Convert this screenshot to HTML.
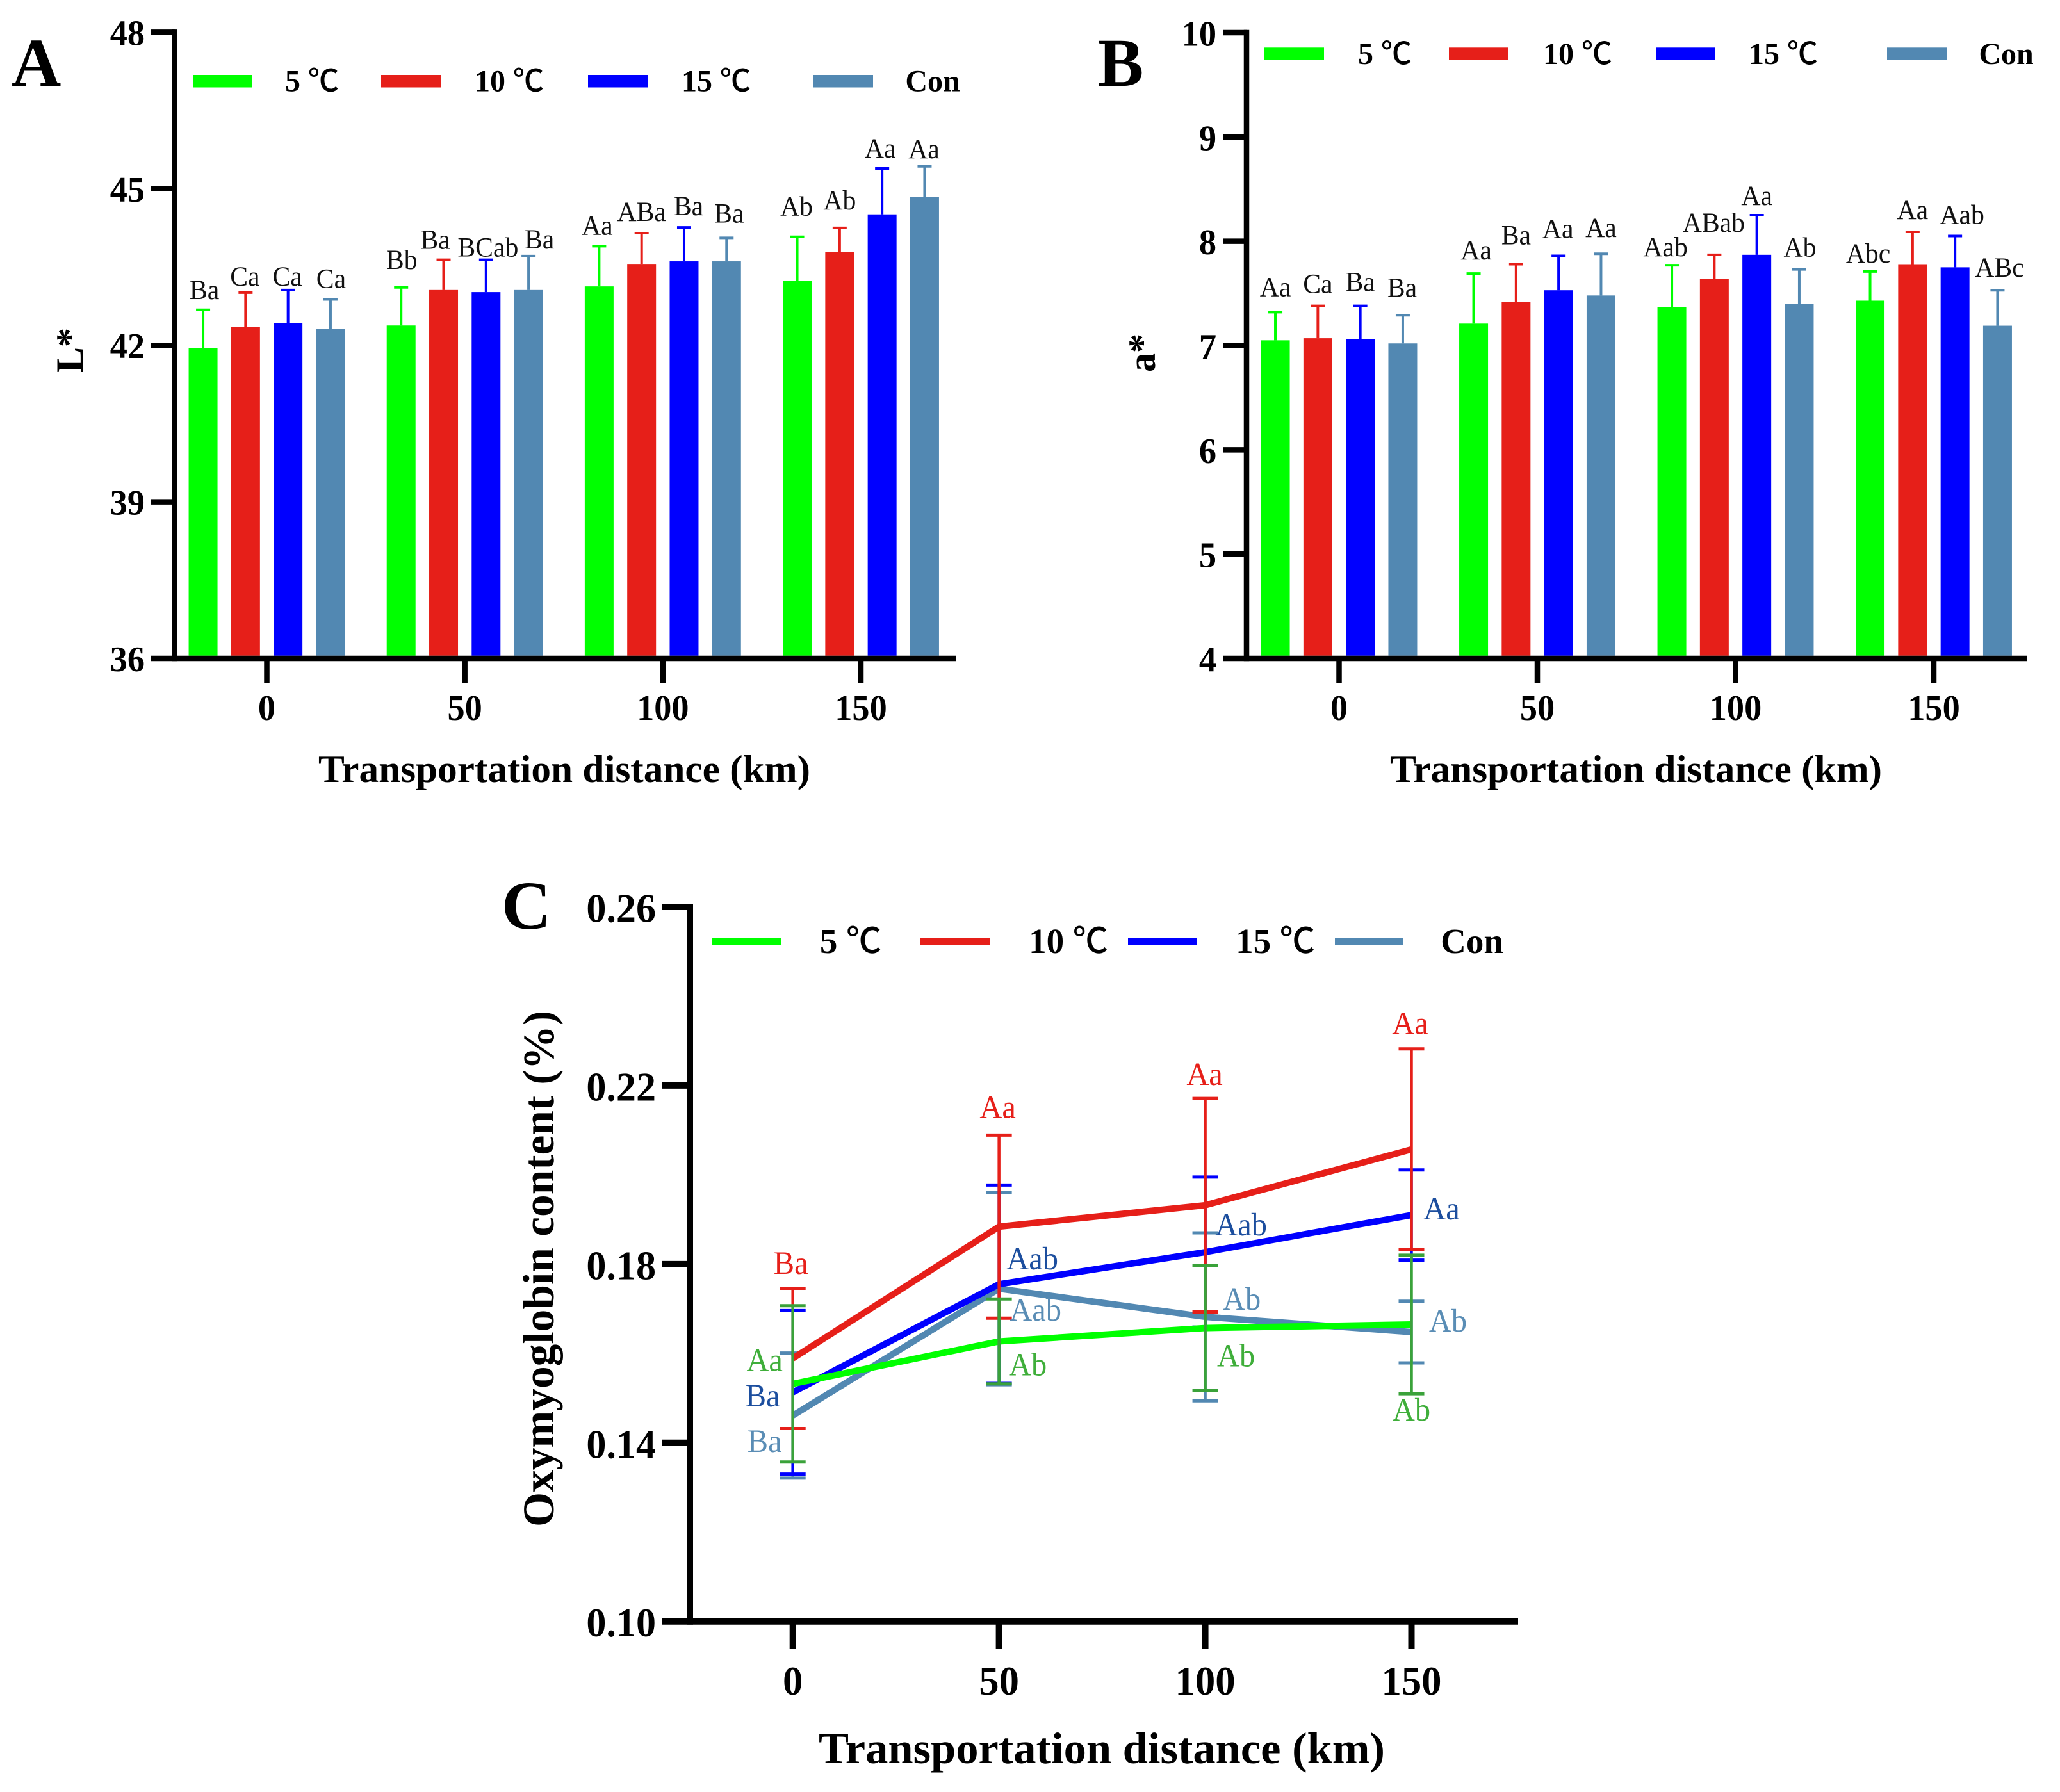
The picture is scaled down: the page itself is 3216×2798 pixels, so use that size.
<!DOCTYPE html>
<html lang="en">
<head>
<meta charset="utf-8">
<title>Effect of transportation distance on L*, a* and oxymyoglobin content</title>
<style>
html,body{margin:0;padding:0;background:#fff;width:3216px;height:2798px;overflow:hidden}
svg{display:block}
text{font-family:"Liberation Serif","Noto Serif CJK SC",serif;fill:#000}
.b{font-weight:bold}
.leg{font-weight:bold;font-size:48px;text-anchor:middle}
.legc{font-weight:bold;font-size:55px;text-anchor:middle}
.ttl{font-weight:bold;font-size:60px;text-anchor:middle}
.ltr{font-weight:bold;font-size:107px}
.deg{font-family:"Noto Sans CJK SC","Liberation Sans",sans-serif;font-weight:500}
</style>
</head>
<body>
<svg id="figure" xmlns="http://www.w3.org/2000/svg" width="3216" height="2798" viewBox="0 0 3216 2798">
<rect x="0" y="0" width="3216" height="2798" fill="#ffffff"/>

<g id="panel-a">
  <text class="ltr" x="18" y="134">A</text>
  <text class="ttl" transform="translate(129,547) rotate(-90)">L*</text>
  <text class="ttl" x="881" y="1221" textLength="768" lengthAdjust="spacingAndGlyphs">Transportation distance (km)</text>
</g>
<g id="legend-a">
  <rect x="301" y="117" width="93" height="19.5" fill="#00ff00"/>
  <text class="leg" x="487" y="142.7">5 <tspan class="deg">℃</tspan></text>
  <rect x="595" y="117" width="93" height="19.5" fill="#e61f19"/>
  <text class="leg" x="795" y="142.7">10 <tspan class="deg">℃</tspan></text>
  <rect x="918" y="117" width="93" height="19.5" fill="#0000ff"/>
  <text class="leg" x="1118" y="142.7">15 <tspan class="deg">℃</tspan></text>
  <rect x="1270" y="117" width="93" height="19.5" fill="#5288b2"/>
  <text class="leg" x="1456" y="142.7">Con</text>
</g>

<g id="panel-b">
  <text class="ltr" x="1714" y="134">B</text>
  <text class="ttl" transform="translate(1803,551) rotate(-90)">a*</text>
  <text class="ttl" x="2554" y="1221" textLength="768" lengthAdjust="spacingAndGlyphs">Transportation distance (km)</text>
</g>
<g id="legend-b">
  <rect x="1974" y="74.3" width="93" height="19.7" fill="#00ff00"/>
  <text class="leg" x="2162" y="100">5 <tspan class="deg">℃</tspan></text>
  <rect x="2262" y="74.3" width="93" height="19.7" fill="#e61f19"/>
  <text class="leg" x="2463" y="100">10 <tspan class="deg">℃</tspan></text>
  <rect x="2585" y="74.3" width="93" height="19.7" fill="#0000ff"/>
  <text class="leg" x="2784" y="100">15 <tspan class="deg">℃</tspan></text>
  <rect x="2946" y="74.3" width="93" height="19.7" fill="#5288b2"/>
  <text class="leg" x="3132" y="100">Con</text>
</g>

<g id="panel-c">
  <text class="ltr" x="783" y="1450">C</text>
  <text class="ttl" style="font-size:69px" transform="translate(864,1981) rotate(-90)" textLength="806" lengthAdjust="spacingAndGlyphs">Oxymyoglobin content (%)</text>
  <text class="ttl" style="font-size:69px" x="1720" y="2753" textLength="884" lengthAdjust="spacingAndGlyphs">Transportation distance (km)</text>
</g>
<g id="legend-c">
  <rect x="1112" y="1465" width="108" height="10" fill="#00ff00"/>
  <text class="legc" x="1328" y="1488">5 <tspan class="deg">℃</tspan></text>
  <rect x="1437" y="1465" width="108" height="10" fill="#e61f19"/>
  <text class="legc" x="1668" y="1488">10 <tspan class="deg">℃</tspan></text>
  <rect x="1761" y="1465" width="107" height="10" fill="#0000ff"/>
  <text class="legc" x="1991" y="1488">15 <tspan class="deg">℃</tspan></text>
  <rect x="2084" y="1465" width="107" height="10" fill="#5288b2"/>
  <text class="legc" x="2298" y="1488">Con</text>
</g>
</svg>

<script>
// ---- shared categories ----
const distances = [0, 50, 100, 150];
const seriesNames = ['5c', '10c', '15c', 'con'];

// ---- panel A: L* ----
const lTicks = [36, 39, 42, 45, 48];
const lMean5 = [41.95, 42.38, 43.13, 43.24];
const lMean10 = [42.35, 43.06, 43.56, 43.79];
const lMean15 = [42.43, 43.02, 43.61, 44.51];
const lMeanCon = [42.32, 43.06, 43.61, 44.85];
const lSd5 = [0.73, 0.73, 0.77, 0.84];
const lSd10 = [0.66, 0.58, 0.59, 0.46];
const lSd15 = [0.63, 0.62, 0.65, 0.88];
const lSdCon = [0.56, 0.65, 0.45, 0.58];
const lSig5 = ['Ba', 'Bb', 'Aa', 'Ab'];
const lSig10 = ['Ca', 'Ba', 'ABa', 'Ab'];
const lSig15 = ['Ca', 'BCab', 'Ba', 'Aa'];
const lSigCon = ['Ca', 'Ba', 'Ba', 'Aa'];

// ---- panel B: a* ----
const aTicks = [4, 5, 6, 7, 8, 9, 10];
const aMean5 = [7.05, 7.21, 7.37, 7.43];
const aMean10 = [7.07, 7.42, 7.64, 7.78];
const aMean15 = [7.06, 7.53, 7.87, 7.75];
const aMeanCon = [7.02, 7.48, 7.40, 7.19];
const aSd5 = [0.27, 0.48, 0.40, 0.28];
const aSd10 = [0.31, 0.36, 0.23, 0.31];
const aSd15 = [0.32, 0.33, 0.38, 0.30];
const aSdCon = [0.27, 0.40, 0.33, 0.34];
const aSig5 = ['Aa', 'Aa', 'Aab', 'Abc'];
const aSig10 = ['Ca', 'Ba', 'ABab', 'Aa'];
const aSig15 = ['Ba', 'Aa', 'Aa', 'Aab'];
const aSigCon = ['Ba', 'Aa', 'Ab', 'ABc'];

// ---- panel C: oxymyoglobin ----
const oxyTicks = ['0.10', '0.14', '0.18', '0.22', '0.26'];
const oxyMean5 = [0.1532, 0.1627, 0.1657, 0.1665];
const oxyMean10 = [0.1589, 0.1884, 0.1932, 0.2057];
const oxyMean15 = [0.1513, 0.1755, 0.1827, 0.1910];
const oxyMeanCon = [0.1461, 0.1745, 0.1682, 0.1648];
const oxySd5 = [0.0175, 0.0095, 0.0140, 0.0155];
const oxySd10 = [0.0157, 0.0205, 0.0239, 0.0225];
const oxySd15 = [0.0183, 0.0222, 0.0168, 0.0101];
const oxySdCon = [0.0140, 0.0215, 0.0188, 0.0069];
const oxySig5 = ['Aa', 'Ab', 'Ab', 'Ab'];
const oxySig10 = ['Ba', 'Aa', 'Aa', 'Aa'];
const oxySig15 = ['Ba', 'Aab', 'Aab', 'Aa'];
const oxySigCon = ['Ba', 'Aab', 'Ab', 'Ab'];

// ---- hand layout nudges for the significance letters (not data) ----
const nudgeA = {
  lift: [[17, 29, 18, 33], [11, 17, 19, 29], [7, 5, 19, 17], [18, 12, 24, 13]],
  shift: [[2, 1, -3, -1], [-1, -13, 0, 0], [-1, 3, 7, -3], [1, 17, 4, -1]]
};
const nudgeB = {
  lift: [[25, 22, 14, 14], [20, 31, 36, 20], [23, 28, 16, 19], [29, 26, 20, 21]],
  shift: [[0, 4, -10, -3], [0, 0, -1, 0], [0, -1, 0, 11], [-1, 0, 1, 3]]
};
const nudgeC = {
  dy: [[-20, 53, 60, 150], [-132, -170, -188, -180], [22, -23, -26, 7], [57, 50, -11, -1]],
  dx: [[-44, 45, 48, 0], [-3, -2, -1, -2], [-47, 52, 56, 47], [-44, 57, 57, 57]]
};

const NS = 'http://www.w3.org/2000/svg';
const fillColors = ['#00ff00', '#e61f19', '#0000ff', '#5288b2'];
const errColorsC = ['#3aa23a', '#e61f19', '#0000ff', '#5288b2'];
const sigColorsC = ['#3fae3a', '#e61f19', '#1c4e9e', '#5a8db5'];
const svg = document.getElementById('figure');

function make(parent, tag, attrs) {
  const el = document.createElementNS(NS, tag);
  for (const k in attrs) el.setAttribute(k, attrs[k]);
  parent.appendChild(el);
  return el;
}
function line(parent, x1, y1, x2, y2, color, width, name) {
  const el = make(parent, 'line', { x1: x1, y1: y1, x2: x2, y2: y2, stroke: color, 'stroke-width': width });
  
  
  return el;
}
function label(parent, str, x, y, size, sx, anchor, weight, color, name) {
  const el = make(parent, 'text', {
    transform: 'translate(' + x + ',' + y + ') scale(' + sx + ',1)',
    'text-anchor': anchor,
    'font-size': size,
    'font-weight': weight
  });
  el.style.fill = color;
  el.textContent = str;
  
  
  return el;
}

function drawAxes(g, c, tickValues) {
  line(g, c.axisX, c.yTop - c.axisW / 2, c.axisX, c.yBottom + c.axisW / 2, '#000', c.axisW, 'y-axis-line');
  line(g, c.axisLeft, c.yBottom, c.axisRight, c.yBottom, '#000', c.axisW, 'x-axis-line');
  tickValues.forEach(function (t) {
    const y = c.yScale(Number(t));
    if (Number(t) !== c.yMin) line(g, c.axisLeft, y, c.axisX, y, '#000', c.axisW, 'y-tick-' + t);
    label(g, String(t), c.tickRight, y + c.tickBase, c.tickSize, 0.97, 'end', 'bold', '#000', 'y-tick-label-' + t);
  });
  distances.forEach(function (d) {
    const x = c.xScale(d);
    line(g, x, c.yBottom, x, c.xTickEnd, '#000', c.axisW, 'x-tick-' + d);
    label(g, String(d), x, c.xLabelBase, c.tickSize, c.xTickSx, 'middle', 'bold', '#000', 'x-tick-label-' + d);
  });
}

function drawBars(g, c, means, sds, sigs, nudge) {
  const barW = 45;
  const capW = 22;
  means.forEach(function (series, s) {
    series.forEach(function (v, i) {
      const cx = c.xScale(distances[i]) + (s - 1.5) * 66.3;
      const top = c.yScale(v);
      const cap = c.yScale(v + sds[s][i]);
      const tag = seriesNames[s] + '-' + distances[i] + 'km';
      const bar = make(g, 'rect', { x: cx - barW / 2, y: top, width: barW, height: c.yBottom - c.axisW / 2 - top, fill: fillColors[s] });
      
      
      line(g, cx, top, cx, cap, fillColors[s], 4, 'error-bar-' + tag);
      line(g, cx - capW / 2, cap, cx + capW / 2, cap, fillColors[s], 4, 'error-cap-' + tag);
      label(g, sigs[s][i], cx + nudge.shift[s][i], cap - nudge.lift[s][i], 43, 0.97, 'middle', 'normal', '#111', 'significance-label-' + tag);
    });
  });
}

function drawOxyErr(g, c, s, means, sds) {
  means[s].forEach(function (v, i) {
    const x = c.xScale(distances[i]);
    const hi = c.yScale(v + sds[s][i]);
    const lo = c.yScale(v - sds[s][i]);
    const tag = seriesNames[s] + '-' + distances[i] + 'km';
    line(g, x, hi, x, lo, errColorsC[s], 4.5, 'error-bar-' + tag);
    line(g, x - 20, hi, x + 20, hi, errColorsC[s], 5, 'error-cap-upper-' + tag);
    line(g, x - 20, lo, x + 20, lo, errColorsC[s], 5, 'error-cap-lower-' + tag);
  });
}

function drawLine(g, c, s, means) {
  const pts = means[s].map(function (v, i) { return c.xScale(distances[i]) + ',' + c.yScale(v); }).join(' ');
  const el = make(g, 'polyline', { points: pts, fill: 'none', stroke: fillColors[s], 'stroke-width': 10, 'stroke-linejoin': 'miter' });
  
  
}

function linear(d0, d1, r0, r1) {
  return function (v) { return r0 + (v - d0) / (d1 - d0) * (r1 - r0); };
}

const layoutA = {
  yMin: 36, yTop: 50.4, yBottom: 1028, axisX: 272.7, axisLeft: 236, axisRight: 1492, axisW: 8.5,
  tickRight: 226, tickBase: 20, tickSize: 56, xTickEnd: 1066, xLabelBase: 1124, xTickSx: 0.97,
  yScale: linear(36, 48, 1028, 50.4), xScale: linear(0, 150, 416.5, 1344)
};
const layoutB = {
  yMin: 4, yTop: 51, yBottom: 1028, axisX: 1946, axisLeft: 1909, axisRight: 3165, axisW: 8.5,
  tickRight: 1899, tickBase: 20.5, tickSize: 56, xTickEnd: 1066, xLabelBase: 1124, xTickSx: 0.97,
  yScale: linear(4, 10, 1028, 51), xScale: linear(0, 150, 2090.5, 3019)
};
const layoutC = {
  yMin: 0.10, yTop: 1416, yBottom: 2531.7, axisX: 1077, axisLeft: 1034, axisRight: 2370, axisW: 10,
  tickRight: 1024, tickBase: 23.5, tickSize: 64, xTickEnd: 2574, xLabelBase: 2646, xTickSx: 0.98,
  yScale: linear(0.10, 0.26, 2531.7, 1416), xScale: linear(0, 150, 1237.7, 2203.5)
};

// Panel A
const gA = document.getElementById('panel-a');
drawBars(gA, layoutA,
  [lMean5, lMean10, lMean15, lMeanCon],
  [lSd5, lSd10, lSd15, lSdCon],
  [lSig5, lSig10, lSig15, lSigCon], nudgeA);
drawAxes(gA, layoutA, lTicks);

// Panel B
const gB = document.getElementById('panel-b');
drawBars(gB, layoutB,
  [aMean5, aMean10, aMean15, aMeanCon],
  [aSd5, aSd10, aSd15, aSdCon],
  [aSig5, aSig10, aSig15, aSigCon], nudgeB);
drawAxes(gB, layoutB, aTicks);

// Panel C
const gC = document.getElementById('panel-c');
const oxyMeans = [oxyMean5, oxyMean10, oxyMean15, oxyMeanCon];
const oxySds = [oxySd5, oxySd10, oxySd15, oxySdCon];
const oxySigs = [oxySig5, oxySig10, oxySig15, oxySigCon];
drawOxyErr(gC, layoutC, 3, oxyMeans, oxySds);
drawOxyErr(gC, layoutC, 2, oxyMeans, oxySds);
[3, 2, 1, 0].forEach(function (s) { drawLine(gC, layoutC, s, oxyMeans); });
drawOxyErr(gC, layoutC, 1, oxyMeans, oxySds);
drawOxyErr(gC, layoutC, 0, oxyMeans, oxySds);
oxySigs.forEach(function (row, s) {
  row.forEach(function (str, i) {
    const x = layoutC.xScale(distances[i]) + nudgeC.dx[s][i];
    const y = layoutC.yScale(oxyMeans[s][i]) + nudgeC.dy[s][i];
    label(gC, str, x, y, 51, 0.95, 'middle', 'normal', sigColorsC[s], 'significance-label-' + seriesNames[s] + '-' + distances[i] + 'km');
  });
});
drawAxes(gC, layoutC, oxyTicks);
</script>
</body>
</html>
